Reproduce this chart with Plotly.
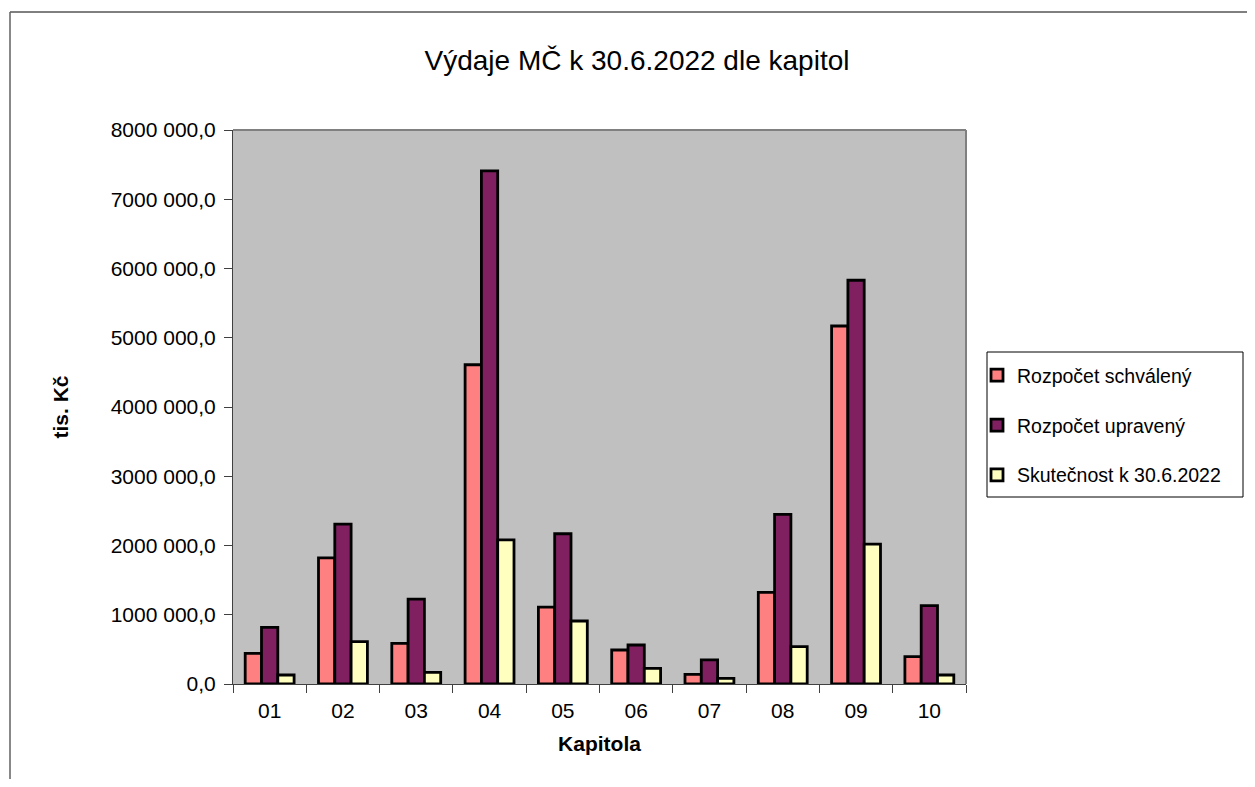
import plotly.graph_objects as go

categories = ["01", "02", "03", "04", "05", "06", "07", "08", "09", "10"]
schvaleny = [443000, 1820000, 588000, 4610000, 1110000, 491000, 140000, 1324000, 5170000, 395000]
upraveny = [819000, 2310000, 1227000, 7410000, 2170000, 563000, 347000, 2450000, 5830000, 1131000]
skutecnost = [130000, 611000, 169000, 2080000, 910000, 227000, 82000, 539000, 2020000, 130000]
series_names = ["Rozpočet schválený", "Rozpočet upravený", "Skutečnost k 30.6.2022"]
series_colors = ["#FF8080", "#802060", "#FFFFC0"]
tick_vals = [0, 1000000, 2000000, 3000000, 4000000, 5000000, 6000000, 7000000, 8000000]
tick_text = ["0,0", "1000 000,0", "2000 000,0", "3000 000,0", "4000 000,0",
             "5000 000,0", "6000 000,0", "7000 000,0", "8000 000,0"]

FONT = "Liberation Sans, Arial, sans-serif"

# page body has an 8px margin: work in reference pixels, shift by 8
OFF = 8
W, H = 1255 - 2 * OFF, 787 - 2 * OFF
L, R, T, B = 233 - OFF, 966 - OFF, 130 - OFF, 684 - OFF
pw, ph = R - L, B - T


def px(x):
    return (x - OFF - L) / pw


def py(y):
    return (B - (y - OFF)) / ph


fig = go.Figure()
for name, vals, col in zip(series_names, [schvaleny, upraveny, skutecnost], series_colors):
    fig.add_trace(go.Bar(
        x=categories, y=vals, name=name, legendgroup=name,
        marker=dict(color=col, line=dict(color="black", width=2.8)),
    ))

fig.update_layout(
    width=W, height=H,
    margin=dict(l=L, r=W - R, t=T, b=H - B),
    paper_bgcolor="white",
    plot_bgcolor="#C0C0C0",
    barmode="group",
    bargap=0.333,
    bargroupgap=0,
    font=dict(family=FONT, color="black", size=21),
    title=dict(text="Výdaje MČ k 30.6.2022 dle kapitol", x=px(637), xref="paper",
               xanchor="center", y=1 - (60 - OFF) / H, yanchor="middle",
               font=dict(size=28, family=FONT, color="black")),
    xaxis=dict(
        type="category",
        showgrid=False,
        ticks="outside", tickson="boundaries", ticklen=8, tickcolor="#404040",
        showline=True, linecolor="#404040", linewidth=1,
        tickfont=dict(size=21), ticklabelstandoff=8,
        title=dict(text="<b>Kapitola</b>", font=dict(size=21), standoff=15),
    ),
    yaxis=dict(
        range=[0, 8000000],
        tickvals=tick_vals, ticktext=tick_text,
        showgrid=False, zeroline=False,
        ticks="outside", ticklen=8, tickcolor="#404040",
        showline=True, linecolor="#404040", linewidth=1,
        tickfont=dict(size=21), ticklabelstandoff=4,
        title=dict(text="<b>tis. Kč</b>", font=dict(size=21), standoff=36),
    ),
    legend=dict(
        x=px(977), y=py(356), xanchor="left", yanchor="top",
        borderwidth=0, bgcolor="rgba(0,0,0,0)",
        font=dict(size=19.5, family=FONT),
        traceorder="grouped", tracegroupgap=21.5,
        itemwidth=30,
    ),
    showlegend=True,
)

# legend frame
fig.add_shape(type="rect", xref="paper", yref="paper",
              x0=px(987), x1=px(1243), y0=py(497), y1=py(352),
              line=dict(color="black", width=1), fillcolor="rgba(0,0,0,0)")
# plot-area border (gray, top and right)
fig.add_shape(type="line", xref="paper", yref="paper", x0=0, x1=1, y0=1, y1=1,
              line=dict(color="#808080", width=2))
fig.add_shape(type="line", xref="paper", yref="paper", x0=1, x1=1, y0=0, y1=1,
              line=dict(color="#808080", width=2))
# chart-area outer border (top and left visible)
fig.add_shape(type="line", xref="paper", yref="paper", x0=px(10), x1=px(1300), y0=py(12), y1=py(12),
              line=dict(color="black", width=1))
fig.add_shape(type="line", xref="paper", yref="paper", x0=px(10), x1=px(10), y0=py(12), y1=py(820),
              line=dict(color="#606060", width=1.5))

fig.write_html("out.html")
